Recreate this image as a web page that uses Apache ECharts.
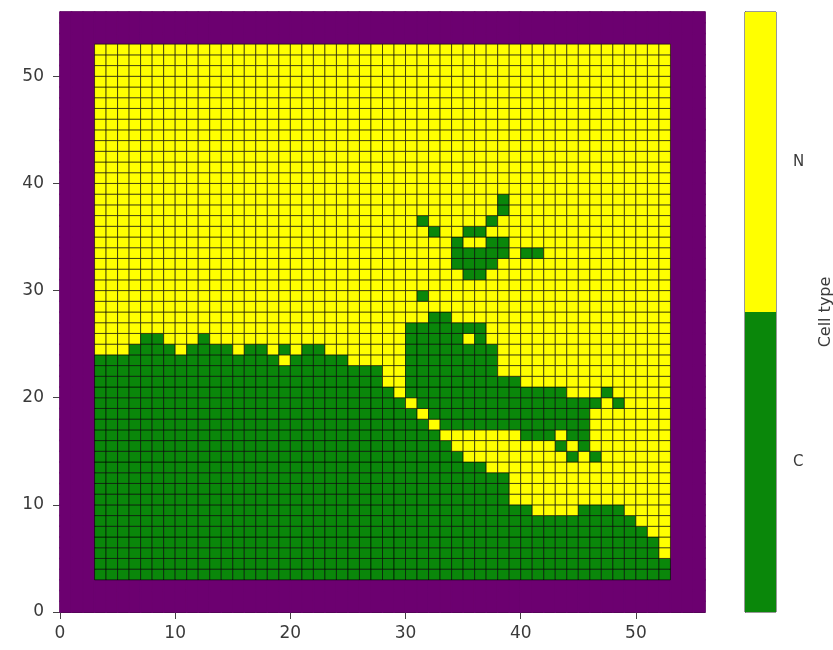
<!DOCTYPE html>
<html>
<head>
<meta charset="utf-8">
<script src="https://cdn.jsdelivr.net/npm/echarts@6/dist/echarts.min.js"></script>
<style>
  html, body { margin: 0; padding: 0; background: #ffffff; }
  #chart { width: 833px; height: 650px; }
</style>
</head>
<body>
<div id="chart"></div>
<script>
// Lattice dimensions: a square of cells with a fixed boundary frame
const gridSize = 56;
const frameWidth = 3;

// Tick values on the lattice axes
const xTicks = [0, 10, 20, 30, 40, 50];
const yTicks = [0, 10, 20, 30, 40, 50];

// Colour bar categories, bottom to top
const cellTypes = ['C', 'N'];

// Cells of type C in each interior column (x = 3 .. 52),
// listed as inclusive [yFrom, yTo] runs; all other interior cells are N
const greenRuns = [
  [[3, 23]],                                   // x = 3
  [[3, 23]],                                   // x = 4
  [[3, 23]],                                   // x = 5
  [[3, 24]],                                   // x = 6
  [[3, 25]],                                   // x = 7
  [[3, 25]],                                   // x = 8
  [[3, 24]],                                   // x = 9
  [[3, 23]],                                   // x = 10
  [[3, 24]],                                   // x = 11
  [[3, 25]],                                   // x = 12
  [[3, 24]],                                   // x = 13
  [[3, 24]],                                   // x = 14
  [[3, 23]],                                   // x = 15
  [[3, 24]],                                   // x = 16
  [[3, 24]],                                   // x = 17
  [[3, 23]],                                   // x = 18
  [[3, 22], [24, 24]],                         // x = 19
  [[3, 23]],                                   // x = 20
  [[3, 24]],                                   // x = 21
  [[3, 24]],                                   // x = 22
  [[3, 23]],                                   // x = 23
  [[3, 23]],                                   // x = 24
  [[3, 22]],                                   // x = 25
  [[3, 22]],                                   // x = 26
  [[3, 22]],                                   // x = 27
  [[3, 20]],                                   // x = 28
  [[3, 19]],                                   // x = 29
  [[3, 18], [20, 26]],                         // x = 30
  [[3, 17], [19, 26], [29, 29], [36, 36]],     // x = 31
  [[3, 16], [18, 27], [35, 35]],               // x = 32
  [[3, 15], [17, 27]],                         // x = 33
  [[3, 14], [17, 26], [32, 34]],               // x = 34
  [[3, 13], [17, 24], [26, 26], [31, 33], [35, 35]], // x = 35
  [[3, 13], [17, 26], [31, 33], [35, 35]],     // x = 36
  [[3, 12], [17, 24], [32, 34], [36, 36]],     // x = 37
  [[3, 12], [17, 21], [33, 34], [37, 38]],     // x = 38
  [[3, 9], [17, 21]],                          // x = 39
  [[3, 9], [16, 20], [33, 33]],                // x = 40
  [[3, 8], [16, 20], [33, 33]],                // x = 41
  [[3, 8], [16, 20]],                          // x = 42
  [[3, 8], [15, 15], [17, 20]],                // x = 43
  [[3, 8], [14, 14], [16, 19]],                // x = 44
  [[3, 9], [15, 19]],                          // x = 45
  [[3, 9], [14, 14], [19, 19]],                // x = 46
  [[3, 9], [20, 20]],                          // x = 47
  [[3, 9], [19, 19]],                          // x = 48
  [[3, 8]],                                    // x = 49
  [[3, 7]],                                    // x = 50
  [[3, 6]],                                    // x = 51
  [[3, 4]]                                     // x = 52
];

// Cell type codes: 0 = boundary, 1 = C, 2 = N
const BOUNDARY = 0, TYPE_C = 1, TYPE_N = 2;
const typeColors = ['#6c0070', '#0a870a', '#ffff00'];

function cellType(x, y) {
  if (x < frameWidth || y < frameWidth ||
      x >= gridSize - frameWidth || y >= gridSize - frameWidth) {
    return BOUNDARY;
  }
  const runs = greenRuns[x - frameWidth] || [];
  for (const [a, b] of runs) {
    if (y >= a && y <= b) return TYPE_C;
  }
  return TYPE_N;
}

const cells = [];
for (let x = 0; x < gridSize; x++) {
  for (let y = 0; y < gridSize; y++) {
    cells.push([x, y, cellType(x, y)]);
  }
}
// Frame cells first so interior cell outlines sit on top
cells.sort((p, q) => (p[2] === BOUNDARY ? 0 : 1) - (q[2] === BOUNDARY ? 0 : 1));

const tickFont = {
  fontFamily: 'DejaVu Sans',
  fontSize: 17,
  color: '#3a3a3a'
};

const chart = echarts.init(document.getElementById('chart'), null, { renderer: 'canvas' });

chart.setOption({
  animation: false,
  backgroundColor: '#ffffff',
  grid: [
    { left: 60, top: 12, width: 645, height: 600, show: true,
      outerBoundsMode: 'none', containLabel: false,
      borderColor: '#111111', borderWidth: 1, backgroundColor: 'transparent' },
    { left: 745, top: 12, width: 31, height: 600, show: true,
      outerBoundsMode: 'none', containLabel: false,
      borderColor: '#333333', borderWidth: 1, backgroundColor: 'transparent' }
  ],
  xAxis: [
    {
      gridIndex: 0, type: 'value', min: 0, max: gridSize,
      axisLine: { show: true, lineStyle: { color: '#111111', width: 1 } },
      axisTick: { show: true, inside: false, length: 7, customValues: xTicks,
                  lineStyle: { color: '#444444' } },
      axisLabel: Object.assign({ margin: 13, customValues: xTicks }, tickFont),
      splitLine: { show: false }
    },
    { gridIndex: 1, type: 'value', min: 0, max: 1, show: false }
  ],
  yAxis: [
    {
      gridIndex: 0, type: 'value', min: 0, max: gridSize,
      axisLine: { show: true, lineStyle: { color: '#111111', width: 1 } },
      axisTick: { show: true, inside: false, length: 7, customValues: yTicks,
                  lineStyle: { color: '#444444' } },
      axisLabel: Object.assign({ margin: 16, customValues: yTicks }, tickFont),
      splitLine: { show: false }
    },
    {
      gridIndex: 1, type: 'category', data: cellTypes, position: 'right',
      axisLine: { show: true, lineStyle: { color: '#333333', width: 1 } },
      axisTick: { show: true, alignWithLabel: true, length: 7,
                  lineStyle: { color: '#444444' } },
      axisLabel: Object.assign({ margin: 17 }, tickFont, { fontSize: 15 }),
      name: 'Cell type',
      nameLocation: 'middle',
      nameRotate: 90,
      nameGap: 42,
      nameTextStyle: { fontFamily: 'DejaVu Sans', fontSize: 16, color: '#3a3a3a' }
    }
  ],
  series: [
    {
      type: 'custom',
      xAxisIndex: 0,
      yAxisIndex: 0,
      data: cells,
      renderItem: function (params, api) {
        const x = api.value(0);
        const y = api.value(1);
        const t = api.value(2);
        const p0 = api.coord([x, y + 1]);
        const p1 = api.coord([x + 1, y]);
        const isFrame = t === BOUNDARY;
        return {
          type: 'rect',
          shape: { x: p0[0], y: p0[1], width: p1[0] - p0[0], height: p1[1] - p0[1] },
          style: {
            fill: typeColors[t],
            stroke: isFrame ? typeColors[t] : 'rgba(0,0,0,0.75)',
            lineWidth: isFrame ? 1.5 : 0.8
          }
        };
      }
    },
    {
      type: 'bar',
      xAxisIndex: 1,
      yAxisIndex: 1,
      barWidth: '100%',
      barCategoryGap: 0,
      data: [
        { value: 1, itemStyle: { color: typeColors[TYPE_C] } },
        { value: 1, itemStyle: { color: typeColors[TYPE_N] } }
      ]
    }
  ]
});
</script>
</body>
</html>
